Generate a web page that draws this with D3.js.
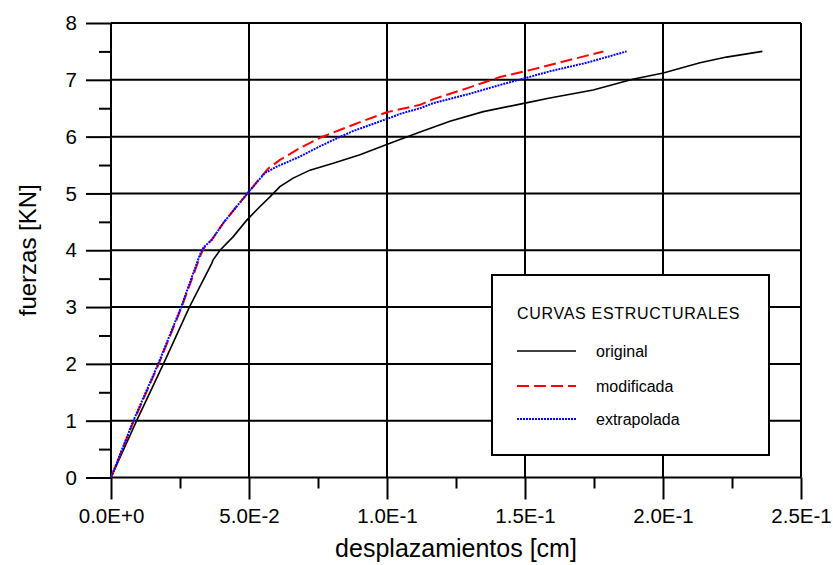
<!DOCTYPE html>
<html>
<head>
<meta charset="utf-8">
<script src="https://cdn.jsdelivr.net/npm/d3@7"></script>
<style>
  body { margin: 0; background: white; }
  svg { font-family: "Liberation Sans", Arial, sans-serif; }
</style>
</head>
<body>
<div id="container"></div>
<script>
let w = 833;
let h = 565;

// DATA
let xTicks = [0, 0.05, 0.1, 0.15, 0.2, 0.25];
let yTicks = [0, 1, 2, 3, 4, 5, 6, 7, 8];

let seriesNames = ["original", "modificada", "extrapolada"];

let origX = [0, 0.0093, 0.019, 0.0284, 0.0322, 0.0365, 0.037, 0.0395, 0.0443, 0.0492, 0.054, 0.0576, 0.0612, 0.066, 0.0721, 0.0805, 0.0902, 0.0999, 0.1047, 0.112, 0.1228, 0.1349, 0.15, 0.159, 0.1747, 0.189, 0.2001, 0.2134, 0.223, 0.236];
let origY = [0, 1.0, 2.0, 3.0, 3.36, 3.77, 3.83, 4.0, 4.24, 4.53, 4.77, 4.94, 5.12, 5.27, 5.41, 5.53, 5.68, 5.86, 5.95, 6.08, 6.27, 6.44, 6.59, 6.68, 6.82, 7.01, 7.12, 7.30, 7.40, 7.50];

let modX = [0, 0.0083, 0.0173, 0.0256, 0.0325, 0.0338, 0.0367, 0.0407, 0.0455, 0.0504, 0.0545, 0.057, 0.0612, 0.0685, 0.0757, 0.0878, 0.0999, 0.112, 0.1168, 0.1289, 0.141, 0.15, 0.159, 0.1784];
let modY = [0, 1.0, 2.0, 3.0, 3.92, 4.05, 4.2, 4.48, 4.77, 5.05, 5.3, 5.44, 5.59, 5.80, 5.98, 6.21, 6.43, 6.56, 6.66, 6.85, 7.05, 7.15, 7.26, 7.50];

let extX = [0, 0.0081, 0.0171, 0.0254, 0.0322, 0.0335, 0.0365, 0.0407, 0.0455, 0.0504, 0.0558, 0.060, 0.0685, 0.0757, 0.0818, 0.0878, 0.0999, 0.1047, 0.112, 0.1168, 0.1289, 0.141, 0.15, 0.159, 0.1723, 0.1868];
let extY = [0, 1.0, 2.0, 3.0, 3.92, 4.05, 4.18, 4.48, 4.77, 5.06, 5.36, 5.47, 5.65, 5.83, 5.97, 6.10, 6.31, 6.40, 6.50, 6.59, 6.74, 6.91, 7.03, 7.15, 7.30, 7.50];

// SVG
let viz = d3.select("#container").append("svg")
    .attr("width", w)
    .attr("height", h)
    .style("background-color", "white")
;

// SCALES
let xScale = d3.scaleLinear().domain([0, 0.25]).range([111, 801]);
let yScale = d3.scaleLinear().domain([0, 8]).range([477.5, 23]);

let fmt = function(d) {
  return d3.format(".1e")(d).toUpperCase();
};

// grid lines
viz.selectAll(".vgrid").data(xTicks).enter()
  .append("line")
    .attr("x1", d => xScale(d)).attr("x2", d => xScale(d))
    .attr("y1", yScale(0)).attr("y2", yScale(8))
    .attr("stroke", "black").attr("stroke-width", 2)
;
viz.selectAll(".hgrid").data(yTicks).enter()
  .append("line")
    .attr("x1", xScale(0)).attr("x2", xScale(0.25))
    .attr("y1", d => yScale(d)).attr("y2", d => yScale(d))
    .attr("stroke", "black").attr("stroke-width", 2)
;

// AXES
let xAxis = d3.axisBottom(xScale).tickValues(xTicks).tickSize(22).tickPadding(9).tickFormat(fmt);
let xMinor = d3.axisBottom(xScale).tickValues([0.025, 0.075, 0.125, 0.175, 0.225]).tickSize(11).tickFormat("");
let yAxis = d3.axisLeft(yScale).tickValues(yTicks).tickSize(25).tickPadding(9).tickFormat(d3.format("d"));
let yMinor = d3.axisLeft(yScale).tickValues([0.5, 1.5, 2.5, 3.5, 4.5, 5.5, 6.5, 7.5]).tickSize(12).tickFormat("");

function styleAxis(g) {
  g.select(".domain").remove();
  g.selectAll("line").attr("stroke", "black").attr("stroke-width", 2);
  g.selectAll("text").attr("fill", "black").style("font-size", "20.5px")
    .style("font-family", "'Liberation Sans', Arial, sans-serif");
}

viz.append("g").attr("transform", "translate(0," + yScale(0) + ")").call(xAxis).call(styleAxis);
viz.append("g").attr("transform", "translate(0," + yScale(0) + ")").call(xMinor).call(styleAxis);
viz.append("g").attr("transform", "translate(" + xScale(0) + ",0)").call(yAxis).call(styleAxis);
viz.append("g").attr("transform", "translate(" + xScale(0) + ",0)").call(yMinor).call(styleAxis);

// axis titles
viz.append("text")
    .attr("x", (xScale(0) + xScale(0.25)) / 2)
    .attr("y", 557)
    .attr("text-anchor", "middle")
    .style("font-size", "25px")
    .text("desplazamientos [cm]")
;
viz.append("text")
    .attr("transform", "translate(36," + yScale(4) + ") rotate(-90)")
    .attr("text-anchor", "middle")
    .style("font-size", "24px")
    .text("fuerzas [KN]")
;

// CURVES
let lineMaker = d3.line()
    .x(d => xScale(d[0]))
    .y(d => yScale(d[1]))
;
let series = [
  { name: seriesNames[0], pts: d3.zip(origX, origY), color: "black", dash: null, width: 1.6 },
  { name: seriesNames[1], pts: d3.zip(modX, modY), color: "#ff0000", dash: "12,5", width: 2 },
  { name: seriesNames[2], pts: d3.zip(extX, extY), color: "#0000ff", dash: "2,1", width: 2 }
];

viz.selectAll(".curve").data(series).enter()
  .append("path")
    .attr("class", "curve")
    .attr("d", d => lineMaker(d.pts))
    .attr("fill", "none")
    .attr("stroke", d => d.color)
    .attr("stroke-width", d => d.width)
    .attr("stroke-dasharray", d => d.dash)
;

// LEGEND
let legend = viz.append("g");
legend.append("rect")
    .attr("x", 492).attr("y", 275)
    .attr("width", 277).attr("height", 180)
    .attr("fill", "white").attr("stroke", "black").attr("stroke-width", 2)
;
legend.append("text")
    .attr("x", 517).attr("y", 319)
    .style("font-size", "16px")
    .style("letter-spacing", "0.7px")
    .text("CURVAS ESTRUCTURALES")
;
let rowY = [351, 386, 419];
series.forEach(function(s, i) {
  legend.append("line")
      .attr("x1", 517).attr("x2", 576)
      .attr("y1", rowY[i]).attr("y2", rowY[i])
      .attr("stroke", s.color)
      .attr("stroke-width", s.width)
      .attr("stroke-dasharray", s.dash)
  ;
  legend.append("text")
      .attr("x", 596).attr("y", rowY[i] + 6)
      .style("font-size", "16px")
      .text(s.name)
  ;
});
</script>
</body>
</html>
